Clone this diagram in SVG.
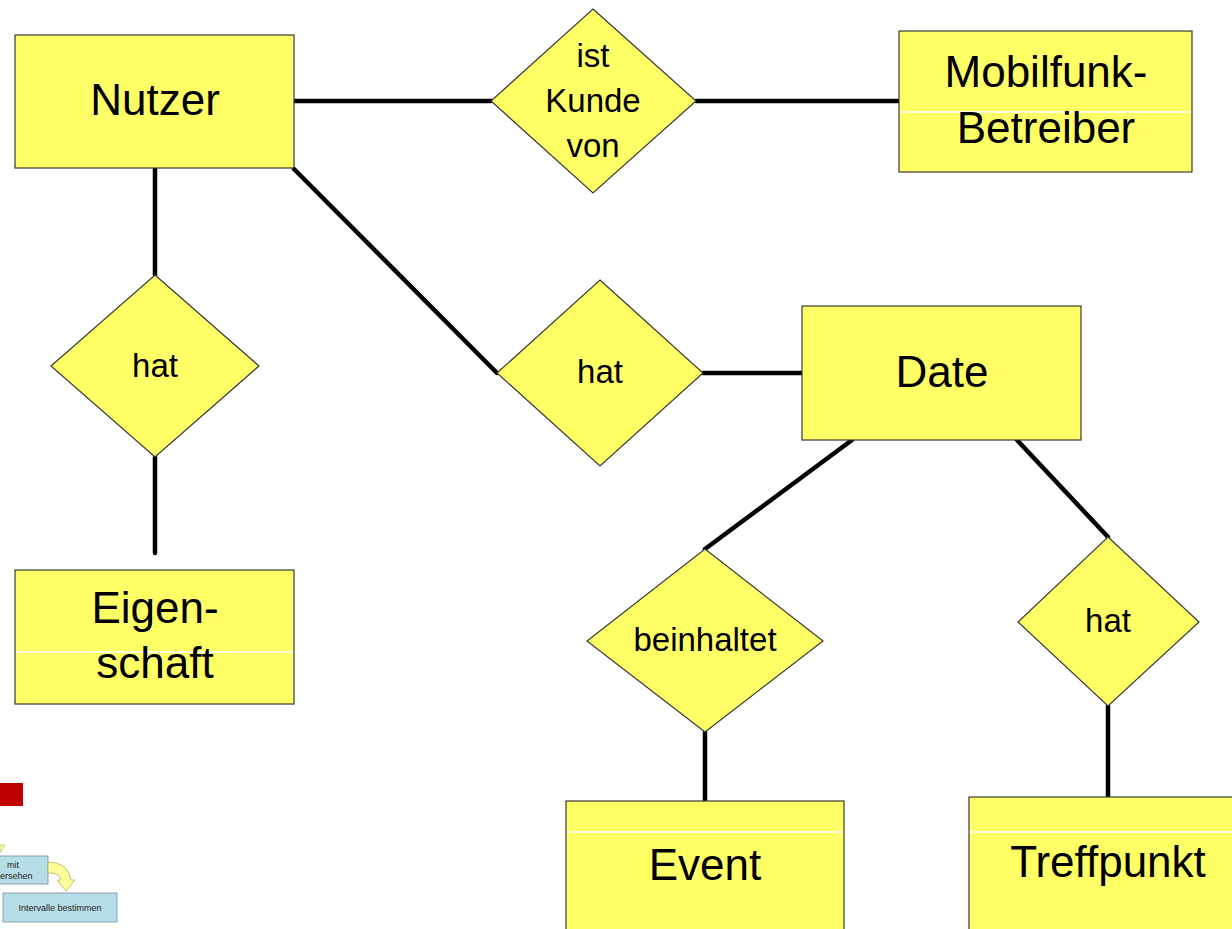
<svg xmlns="http://www.w3.org/2000/svg" width="1232" height="929" viewBox="0 0 1232 929">
<style>
.ent{fill:#ffff66;stroke:#3a3a3a;stroke-width:1.2}
.rel{fill:#ffff66;stroke:#3a3a3a;stroke-width:1.2}
.sep{stroke:#ffffff;stroke-width:1.5}
.big{font-family:"Liberation Sans",Arial,sans-serif;font-size:44px;fill:#000;text-anchor:middle}
.mid{font-family:"Liberation Sans",Arial,sans-serif;font-size:33px;fill:#000;text-anchor:middle}
.con{stroke:#000;stroke-width:4.5;stroke-linecap:round;fill:none}
.sm{font-family:"Liberation Sans",Arial,sans-serif;font-size:9px;fill:#222}
</style>
<rect width="1232" height="929" fill="#ffffff"/>
<g id="connectors">
<line class="con" x1="294" y1="101" x2="491" y2="101"/>
<line class="con" x1="696" y1="101" x2="900" y2="101"/>
<line class="con" x1="155" y1="168" x2="155" y2="275"/>
<line class="con" x1="155" y1="457" x2="155" y2="553"/>
<line class="con" x1="294" y1="169" x2="497" y2="373"/>
<line class="con" x1="703" y1="373" x2="802" y2="373"/>
<line class="con" x1="852" y1="440" x2="705" y2="549"/>
<line class="con" x1="1017" y1="440" x2="1108" y2="537"/>
<line class="con" x1="705" y1="732" x2="705" y2="801"/>
<line class="con" x1="1108" y1="706" x2="1108" y2="798"/>
</g>
<g id="nutzer">
<rect class="ent" x="15" y="35" width="279" height="133"/>
<text class="big" x="155" y="115">Nutzer</text>
</g>
<g id="mobilfunk">
<rect class="ent" x="899" y="31" width="293" height="141"/>
<line class="sep" x1="900" y1="112" x2="1191" y2="112"/>
<text class="big" x="1046" y="87">Mobilfunk-</text>
<text class="big" x="1046" y="143">Betreiber</text>
</g>
<g id="eigenschaft">
<rect class="ent" x="15" y="570" width="279" height="134"/>
<line class="sep" x1="16" y1="652" x2="293" y2="652"/>
<text class="big" x="155" y="623">Eigen-</text>
<text class="big" x="155" y="678">schaft</text>
</g>
<g id="date">
<rect class="ent" x="802" y="306" width="279" height="134"/>
<text class="big" x="942" y="387">Date</text>
</g>
<g id="event">
<rect class="ent" x="566" y="801" width="278" height="140"/>
<line class="sep" x1="567" y1="832" x2="843" y2="832"/>
<text class="big" x="705" y="880">Event</text>
</g>
<g id="treffpunkt">
<rect class="ent" x="969" y="797" width="280" height="144"/>
<line class="sep" x1="970" y1="832" x2="1232" y2="832"/>
<text class="big" x="1108" y="877">Treffpunkt</text>
</g>
<g id="istKundeVon">
<polygon class="rel" points="593,9 696,101 593,193 491,101"/>
<text class="mid" x="593" y="67">ist</text>
<text class="mid" x="593" y="112">Kunde</text>
<text class="mid" x="593" y="157">von</text>
</g>
<g id="hat1">
<polygon class="rel" points="155,275 259,366 155,457 51,366"/>
<text class="mid" x="155" y="377">hat</text>
</g>
<g id="hat2">
<polygon class="rel" points="600,280 703,373 600,466 497,373"/>
<text class="mid" x="600" y="383">hat</text>
</g>
<g id="beinhaltet">
<polygon class="rel" points="705,549 823,641 705,732 587,641"/>
<text class="mid" x="705" y="651">beinhaltet</text>
</g>
<g id="hat3">
<polygon class="rel" points="1108,537 1199,622 1108,706 1018,622"/>
<text class="mid" x="1108" y="632">hat</text>
</g>
<g id="fragment">
<rect x="0" y="783" width="23" height="23" fill="#c00000"/>
<polygon points="0,845 5,845 0,853" fill="#ffff99" stroke="#b0b060" stroke-width="0.6"/>
<rect x="-5" y="856" width="53" height="28" fill="#b7dee8" stroke="#6f8f98" stroke-width="0.8"/>
<text class="sm" x="7" y="868">mit</text>
<text class="sm" x="0" y="879">ersehen</text>
<path d="M48,862 Q68,862 71,880 L75,880 L66,891 L57,880 L61,880 Q59,872 48,873 Z" fill="#ffff99" stroke="#b0b060" stroke-width="0.8"/>
<rect x="3" y="893" width="114" height="29" fill="#b7dee8" stroke="#6f8f98" stroke-width="0.8"/>
<text class="sm" x="60" y="911" text-anchor="middle">Intervalle bestimmen</text>
</g>
</svg>
